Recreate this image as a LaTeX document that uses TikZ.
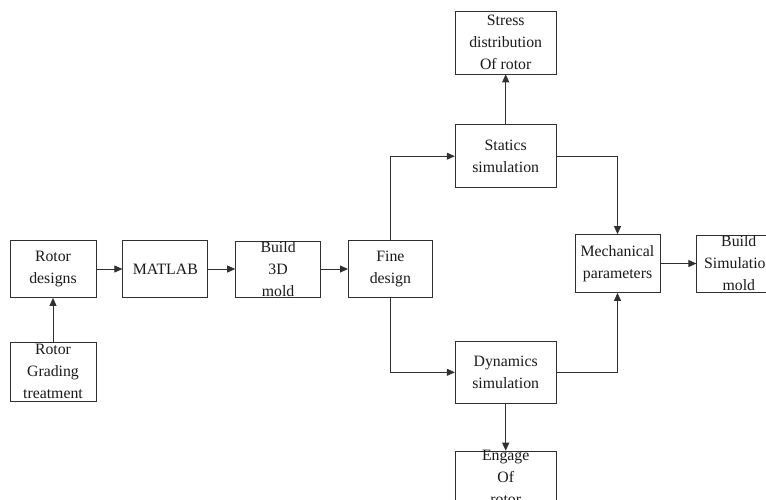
\documentclass[tikz,border=0pt]{standalone}
\usepackage{fontspec}
\setmainfont{Liberation Serif}
\usepackage{tikz}
\usetikzlibrary{arrows.meta, positioning}
\definecolor{lineink}{HTML}{303030}
\definecolor{textink}{HTML}{1A1A1A}
\tikzset{
  blk/.style={draw=lineink, fill=white, align=center, inner xsep=2pt, inner ysep=-12pt,
    minimum height=57pt, minimum width=85pt, font=\fontsize{15.8}{22}\selectfont, text=textink, line width=0.8pt},
  wblk/.style={blk, minimum width=101pt, minimum height=63pt},
  flow/.style={-{Triangle[length=8pt, width=7pt]}, draw=lineink, line width=0.8pt}
}

\begin{document}
\begin{tikzpicture}[node distance=27pt and 27pt]
\useasboundingbox (0,0) rectangle (766pt,-499pt);
\node[blk, minimum width=86pt] (rotor) at (53pt,-269pt) {Rotor\\designs};
\node[blk, minimum height=59pt, minimum width=86pt, below=44pt of rotor] (grading) {Rotor\\Grading\\treatment};
\node[blk, right=26pt of rotor] (matlab) {MATLAB};
\node[blk, minimum height=56pt, right=of matlab] (build) {Build\\3D\\mold};
\node[blk, minimum width=84pt, right=of build] (fine) {Fine\\design};
\node[wblk, above right=52pt and 22pt of fine] (statics) {Statics\\simulation};
\node[wblk, above=50pt of statics] (stress) {Stress\\distribution\\Of rotor};
\node[wblk, minimum height=62pt, below right=43pt and 22pt of fine] (dyn) {Dynamics\\simulation};
\node[wblk, minimum height=53pt, below=47pt of dyn] (engage) {Engage\\Of\\rotor};
\node[blk, minimum height=58pt, below right=46pt and 18pt of statics] (mech) {Mechanical\\parameters};
\node[blk, minimum width=84pt, right=36pt of mech] (simmold) {Build\\Simulation\\mold};
\draw[flow] (grading)--(rotor); \draw[flow] (rotor)--(matlab);
\draw[flow] (matlab)--(build); \draw[flow] (build)--(fine);
\draw[flow] (fine.north)|-(statics.west); \draw[flow] (fine.south)|-(dyn.west);
\draw[flow] (statics)--(stress); \draw[flow] (dyn)--(engage);
\draw[flow] (statics.east)-|(mech.north); \draw[flow] (dyn.east)-|(mech.south);
\draw[flow] (mech)--(simmold);
\end{tikzpicture}
\end{document}
